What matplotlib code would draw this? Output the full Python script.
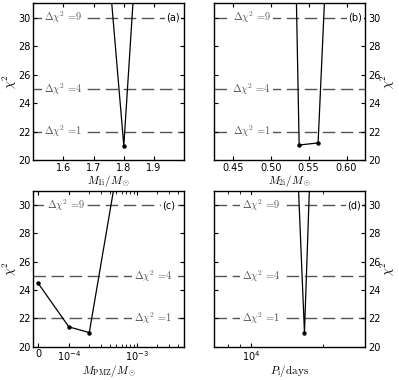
import numpy as np
import matplotlib
matplotlib.use("Agg")
import matplotlib.pyplot as plt
from matplotlib.ticker import FixedLocator, NullFormatter

# chi^2 values
m1i = [1.7, 1.8, 1.9]
chi2_m1i = [46.0, 21.0, 54.0]

m2i = [0.525, 0.5375, 0.5625, 0.575]
chi2_m2i = [56.0, 21.05, 21.2, 36.0]

mpmz = [0.0, 1e-4, 2e-4, 5e-4]
chi2_mpmz = [24.5, 21.4, 21.0, 32.2]

pi_days = [1.5e4, 1.67e4, 1.8e4]
chi2_pi = [40.0, 21.0, 37.0]

# delta chi^2 levels (min chi2 = 21)
levels = [1, 4, 9]
level_y = [22, 25, 30]

grey = "#555555"
tick_fs = 7

fig = plt.figure(figsize=(3.99, 3.8), dpi=100)
axa = fig.add_axes([0.0835, 0.579, 0.378, 0.412])
axb = fig.add_axes([0.536, 0.579, 0.380, 0.412])
axc = fig.add_axes([0.0835, 0.0876, 0.378, 0.410])
axd = fig.add_axes([0.536, 0.0876, 0.380, 0.410])


def style(ax, right=False):
    ax.set_ylim(20, 31)
    ax.set_yticks([20, 22, 24, 26, 28, 30])
    ax.tick_params(which="both", direction="in", top=True, right=True,
                   labelsize=tick_fs, pad=2)
    ax.tick_params(which="major", length=3)
    ax.tick_params(which="minor", length=2)
    for s in ax.spines.values():
        s.set_linewidth(1.0)
    if right:
        ax.yaxis.tick_right()
        ax.yaxis.set_ticks_position("both")
        ax.yaxis.set_label_position("right")
        ax.tick_params(axis="y", labelleft=False, labelright=True)
    ax.set_ylabel(r"$\chi^2$", fontsize=9, math_fontfamily="cm", labelpad=-1)
    for y in level_y:
        ax.axhline(y, color=grey, lw=1.0, dashes=(9, 4), zorder=1)


def dlabel(ax, x, lev, y):
    # plain "=9" in Computer Modern so it sits tight against the number
    ax.text(x, y, r"$\Delta\chi^2$ =%d" % lev, color=grey, fontsize=7.5,
            family="cmr10", math_fontfamily="cm", ha="center", va="center",
            zorder=2, bbox=dict(facecolor="white", edgecolor="none", pad=1.5))


def plabel(ax, x, s):
    ax.text(x, 30, s, fontsize=7, ha="center", va="center", zorder=2,
            bbox=dict(facecolor="white", edgecolor="none", pad=1.0))


def curve(ax, x, y):
    ax.plot(x, y, color="black", lw=0.9, marker="o", ms=2.2, zorder=3)


# (a)
style(axa)
curve(axa, m1i, chi2_m1i)
axa.set_xlim(1.5, 2.0)
axa.set_xticks([1.6, 1.7, 1.8, 1.9])
axa.set_xlabel(r"$M_{\rm 1i}/M_\odot$", fontsize=8, math_fontfamily="cm", labelpad=0)
for lev, y in zip(levels, level_y):
    dlabel(axa, 1.6, lev, y)
plabel(axa, 1.963, "(a)")

# (b)
style(axb, right=True)
curve(axb, m2i, chi2_m2i)
axb.set_xlim(0.425, 0.625)
axb.set_xticks([0.45, 0.50, 0.55, 0.60])
axb.set_xlabel(r"$M_{\rm 2i}/M_\odot$", fontsize=8, math_fontfamily="cm", labelpad=0)
for lev, y in zip(levels, level_y):
    dlabel(axb, 0.475, lev, y)
plabel(axb, 0.6115, "(b)")

# (c)
style(axc)
curve(axc, mpmz, chi2_mpmz)
axc.set_xscale("symlog", linthresh=1e-4, linscale=0.41)
axc.set_xlim(-1.5e-5, 5e-3)
axc.set_xticks([0, 1e-4, 1e-3], ["0", r"$10^{-4}$", r"$10^{-3}$"])
axc.xaxis.set_minor_locator(FixedLocator([2e-4, 3e-4, 4e-4, 5e-4, 6e-4, 7e-4, 8e-4, 9e-4,
                                          2e-3, 3e-3, 4e-3]))
axc.xaxis.set_minor_formatter(NullFormatter())
axc.set_xlabel(r"$M_{\rm PMZ}/M_\odot$", fontsize=8, math_fontfamily="cm", labelpad=0)
dlabel(axc, 9e-5, 9, 30)
dlabel(axc, 1.75e-3, 4, 25)
dlabel(axc, 1.75e-3, 1, 22)
plabel(axc, 3e-3, "(c)")

# (d)
style(axd, right=True)
curve(axd, pi_days, chi2_pi)
axd.set_xscale("log")
axd.set_xlim(7e3, 3e4)
axd.set_xticks([1e4], [r"$10^{4}$"])
axd.xaxis.set_minor_formatter(NullFormatter())
axd.set_xlabel(r"$P_{\rm i}/{\rm days}$", fontsize=8, math_fontfamily="cm", labelpad=0)
for lev, y in zip(levels, level_y):
    dlabel(axd, 1.1e4, lev, y)
plabel(axd, 2.69e4, "(d)")

fig.savefig("out.png", dpi=100)
